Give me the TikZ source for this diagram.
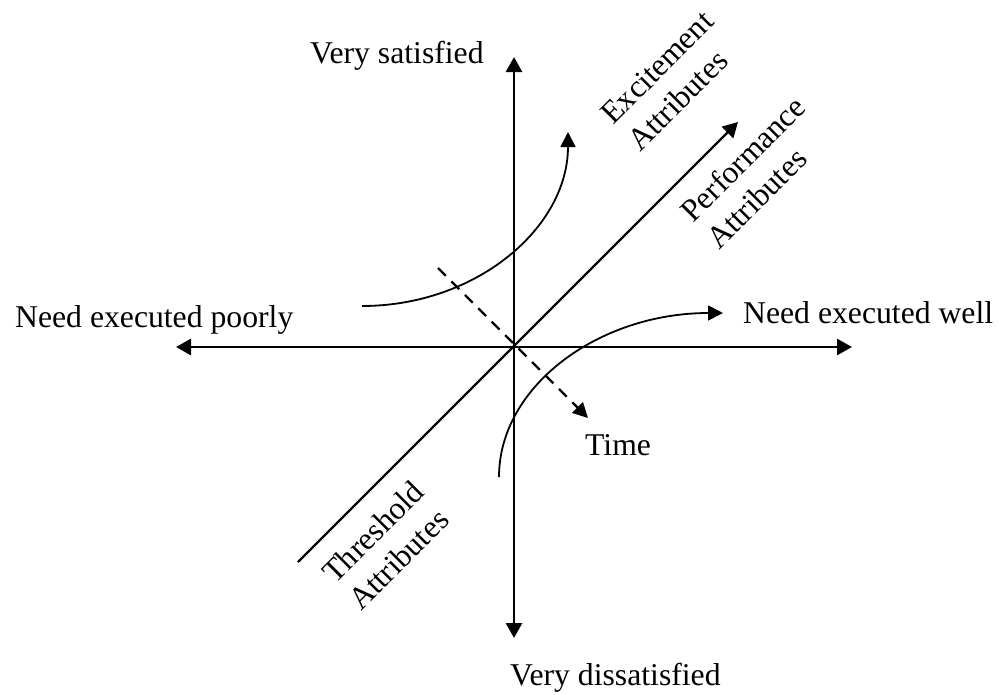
\documentclass[tikz,border=0pt]{standalone}
\usepackage{fontspec}
\setmainfont{Liberation Serif}
\usetikzlibrary{arrows.meta}
\begin{document}
\begin{tikzpicture}[x=1pt,y=-1pt,
  lbl/.style={inner sep=0pt, font=\fontsize{31.7}{38}\selectfont},
  rlbl/.style={lbl, rotate=45, anchor=base west},
  axis/.style={line width=2.8pt, {Triangle[length=15pt,width=16pt]}-{Triangle[length=15pt,width=16pt]}},
  diag/.style={line width=2.3pt, -{Triangle[length=15pt,width=16pt]}},
  curve/.style={line width=1.8pt, -{Triangle[length=15pt,width=15pt]}},
  timeline/.style={line width=2.3pt, dash pattern=on 11pt off 8pt, -{Triangle[length=15pt,width=15pt]}}]
\useasboundingbox (0,0) rectangle (1004,694);
% coordinates
\coordinate (left) at (176,347);
\coordinate (right) at (852,347);
\coordinate (top) at (514,57);
\coordinate (bottom) at (514,638);
\coordinate (dstart) at (298,562);
\coordinate (dend) at (738,122);
\coordinate (tstart) at (438,268);
\coordinate (tend) at (588,418);
\coordinate (estart) at (362,306);
\coordinate (eend) at (568,132);
\coordinate (hstart) at (499,477);
\coordinate (hend) at (723,313);
% axes
\draw[axis] (left) -- (right);
\draw[axis] (top) -- (bottom);
\draw[diag] (dstart) -- (dend);
\draw[timeline] (tstart) -- (tend);
\draw[curve] (estart) .. controls (476,306) and (568,228) .. (eend);
\draw[curve] (hstart) .. controls (499,386) and (599,313) .. (hend);
% labels
\node[lbl, anchor=base west] (vs) at (310,63) {Very satisfied};
\node[lbl, anchor=base west] (vd) at (510,685) {Very dissatisfied};
\node[lbl, anchor=base west] (np) at (15,327) {Need executed poorly};
\node[lbl, anchor=base west] (nw) at (743,323) {Need executed well};
\node[lbl, anchor=base west] (time) at (585,455) {Time};
\node[rlbl] (exc1) at (613,126) {Excitement};
\node[rlbl] (exc2) at (640,153) {Attributes};
\node[rlbl] (perf1) at (693,224) {Performance};
\node[rlbl] (perf2) at (719,251) {Attributes};
\node[rlbl] (thr1) at (335,585) {Threshold};
\node[rlbl] (thr2) at (361,612) {Attributes};
\end{tikzpicture}
\end{document}
